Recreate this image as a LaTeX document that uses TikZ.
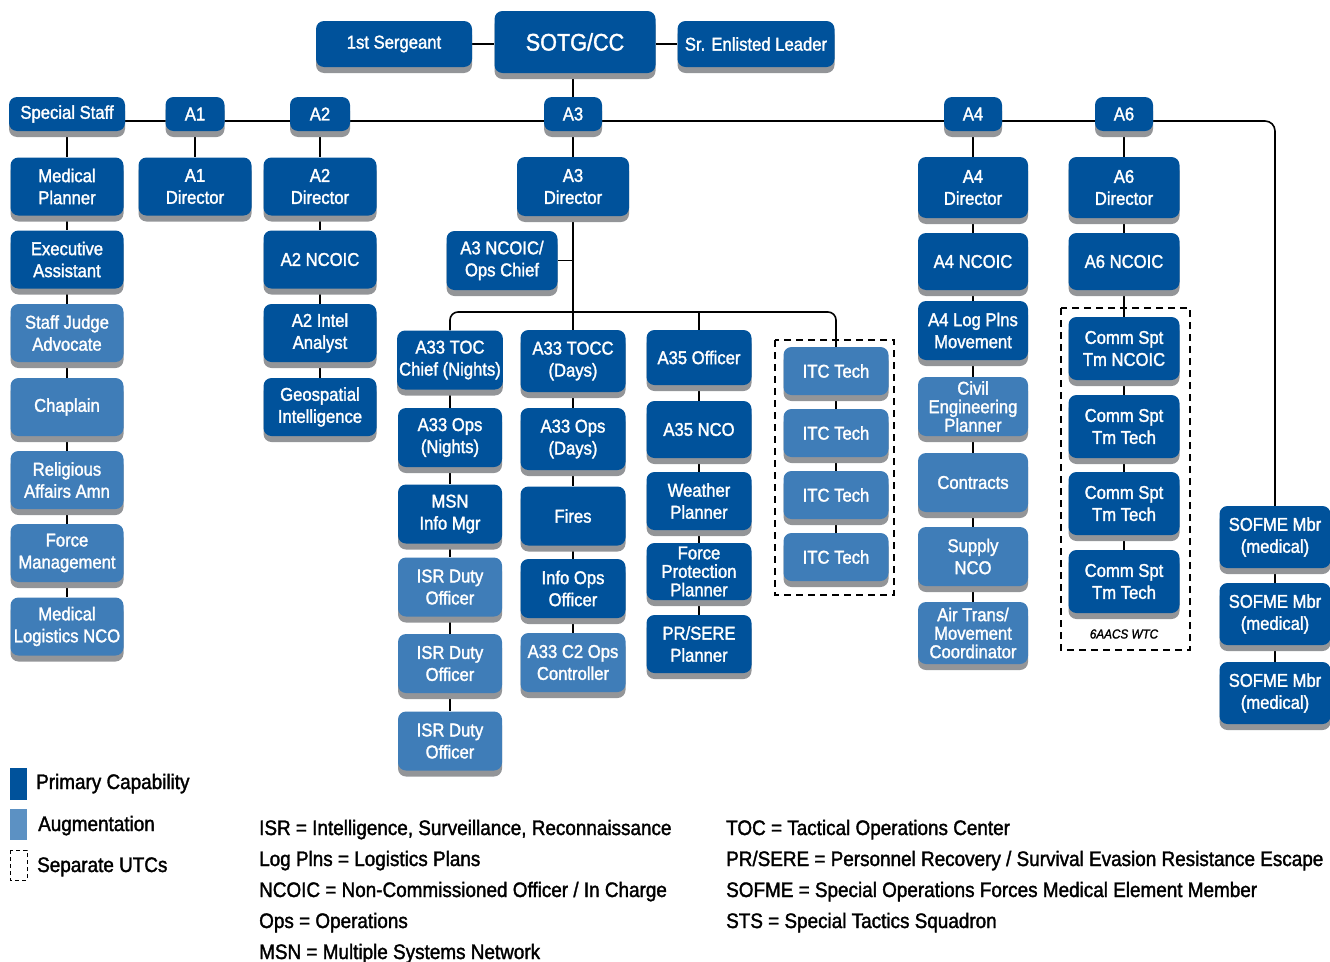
\documentclass[tikz,border=0pt]{standalone}
\usepackage{fontspec}
\setmainfont{Liberation Sans}[FakeStretch=0.9,FakeBold=1.6]
\usetikzlibrary{shadows,backgrounds}
\definecolor{primblue}{HTML}{00529B}
\definecolor{augblue}{HTML}{3F7DB8}
\definecolor{shade}{HTML}{939598}
\tikzset{
  box/.style={rounded corners=8pt,text=white,align=center,inner sep=2pt,
    font=\fontsize{18.5}{22}\selectfont,
    drop shadow={shadow xshift=0pt,shadow yshift=-6pt,opacity=1,fill=shade}},
  pri/.style={box,fill=primblue},
  aug/.style={box,fill=augblue},
  tight/.style={font=\fontsize{18.5}{18.5}\selectfont},
  hdr/.style={minimum height=34pt},
  colss/.style={minimum width=113pt,minimum height=58pt},
  colt/.style={minimum width=104pt,minimum height=59pt},
  colitc/.style={minimum width=105pt,minimum height=48pt},
  colaf/.style={minimum width=110pt,minimum height=59pt},
  colas/.style={minimum width=111pt,minimum height=62pt},
  link/.style={line width=1.6pt},
  utc/.style={line width=2pt,dash pattern=on 7pt off 5pt},
  legend/.style={anchor=base west,align=left,inner sep=0pt,font=\fontsize{21}{31}\selectfont},
}
\begin{document}
\begin{tikzpicture}[x=1pt,y=-1pt]
\useasboundingbox (0,0) rectangle (1330,961);
% command
\node[pri,minimum width=156pt,minimum height=46pt] (sgt) at (394,44) {1st Sergeant};
\node[pri,minimum width=161pt,minimum height=62pt,font=\fontsize{24}{28}\selectfont] (cc) at (575,42) {SOTG/CC};
\node[pri,minimum width=157pt,minimum height=46pt] (sel) at (756,44) {Sr. Enlisted Leader};
% staff row
\node[pri,hdr,minimum width=116pt] (spec) at (67,114) {Special Staff};
\node[pri,hdr,minimum width=59pt] (a1) at (195,114) {A1};
\node[pri,hdr,minimum width=60pt] (a2) at (320,114) {A2};
\node[pri,hdr,minimum width=58pt] (a3) at (573,114) {A3};
\node[pri,hdr,minimum width=58pt] (a4) at (973,114) {A4};
\node[pri,hdr,minimum width=58pt] (a6) at (1124,114) {A6};
% special staff
\node[pri,colss] (medp) at (67,186.5) {Medical\\Planner};
\node[pri,colss] (exa) at (67,259.5) {Executive\\Assistant};
\node[aug,colss] (sja) at (67,333) {Staff Judge\\Advocate};
\node[aug,colss] (chap) at (67,407) {Chaplain};
\node[aug,colss] (rel) at (67,480) {Religious\\Affairs Amn};
\node[aug,colss] (fmgt) at (67,553) {Force\\Management};
\node[aug,colss] (mlog) at (67,626.5) {Medical\\Logistics NCO};
% A1 and A2
\node[pri,colss] (a1d) at (195,186.5) {A1\\Director};
\node[pri,colss] (a2d) at (320,186.5) {A2\\Director};
\node[pri,colss] (a2n) at (320,259.5) {A2 NCOIC};
\node[pri,colss] (a2i) at (320,333) {A2 Intel\\Analyst};
\node[pri,colss] (geo) at (320,407) {Geospatial\\Intelligence};
% A3
\node[pri,colss,minimum width=112pt,minimum height=59pt] (a3d) at (573,186.5) {A3\\Director};
\node[pri,colss,minimum width=111pt,minimum height=59pt] (a3n) at (502,260.5) {A3 NCOIC/\\Ops Chief};
\node[pri,colt] (toc) at (450,360) {A33 TOC\\Chief (Nights)};
\node[pri,colt] (opsn) at (450,437.5) {A33 Ops\\(Nights)};
\node[pri,colt] (msn) at (450,514) {MSN\\Info Mgr};
\node[aug,colt] (isr1) at (450,587) {ISR Duty\\Officer};
\node[aug,colt] (isr2) at (450,663.5) {ISR Duty\\Officer};
\node[aug,colt] (isr3) at (450,741) {ISR Duty\\Officer};
\node[pri,colt,minimum width=105pt,minimum height=62pt] (tocc) at (573,361) {A33 TOCC\\(Days)};
\node[pri,colt,minimum width=105pt,minimum height=62pt] (opsd) at (573,439) {A33 Ops\\(Days)};
\node[pri,colt,minimum width=105pt] (fires) at (573,516) {Fires};
\node[pri,colt,minimum width=105pt] (info) at (573,588.5) {Info Ops\\Officer};
\node[aug,colt,minimum width=105pt] (ctrl) at (573,662.5) {A33 C2 Ops\\Controller};
\node[pri,colt,minimum width=105pt,minimum height=55pt] (a35o) at (699,357.5) {A35 Officer};
\node[pri,colt,minimum width=105pt,minimum height=57pt] (a35n) at (699,429.5) {A35 NCO};
\node[pri,colt,minimum width=105pt,minimum height=58pt] (wx) at (699,501) {Weather\\Planner};
\node[pri,colt,tight,minimum width=105pt,minimum height=57pt] (fp) at (699,571.5) {Force\\Protection\\Planner};
\node[pri,colt,minimum width=105pt,minimum height=58pt] (sere) at (699,644) {PR/SERE\\Planner};
\node[aug,colitc] (itc1) at (836,371) {ITC Tech};
\node[aug,colitc] (itc2) at (836,433) {ITC Tech};
\node[aug,colitc] (itc3) at (836,495) {ITC Tech};
\node[aug,colitc] (itc4) at (836,557) {ITC Tech};
\draw[utc] (775,340) rectangle (894,595);
% A4
\node[pri,colaf,minimum height=61pt] (a4d) at (973,187.5) {A4\\Director};
\node[pri,colaf,minimum height=57pt] (a4n) at (973,261.5) {A4 NCOIC};
\node[pri,colaf] (a4l) at (973,330.5) {A4 Log Plns\\Movement};
\node[aug,colaf,tight] (civ) at (973,406.5) {Civil\\Engineering\\Planner};
\node[aug,colaf] (con) at (973,482.5) {Contracts};
\node[aug,colaf] (sup) at (973,556.5) {Supply\\NCO};
\node[aug,colaf,tight,minimum height=62pt] (air) at (973,633) {Air Trans/\\Movement\\Coordinator};
% A6
\node[pri,colas,minimum height=61pt] (a6d) at (1124,187.5) {A6\\Director};
\node[pri,colas,minimum height=57pt] (a6n) at (1124,261.5) {A6 NCOIC};
\node[pri,colas,minimum height=63pt] (cm1) at (1124,348.5) {Comm Spt\\Tm NCOIC};
\node[pri,colas,minimum height=63pt] (cm2) at (1124,426.5) {Comm Spt\\Tm Tech};
\node[pri,colas,minimum height=63pt] (cm3) at (1124,503.5) {Comm Spt\\Tm Tech};
\node[pri,colas,minimum height=63pt] (cm4) at (1124,581.5) {Comm Spt\\Tm Tech};
\draw[utc] (1061,308) rectangle (1190,650);
\node[font=\fontsize{13}{15}\selectfont\itshape] (wtc) at (1124,634) {6AACS WTC};
% SOFME
\node[pri,colas] (sof1) at (1275,537) {SOFME Mbr\\(medical)};
\node[pri,colas] (sof2) at (1275,614) {SOFME Mbr\\(medical)};
\node[pri,colas] (sof3) at (1275,693) {SOFME Mbr\\(medical)};
% connectors
\begin{scope}[on background layer]
\draw[link] (sgt.east) -- (sgt.east -| cc.west);
\draw[link] (sel.west) -- (sel.west -| cc.east);
\draw[link] (cc.south -| a3) -- (a3);
\draw[link,rounded corners=10pt] ([yshift=-7pt]spec.center) -| (sof1.north);
\draw[link] (spec) -- (medp) -- (exa) -- (sja) -- (chap) -- (rel) -- (fmgt) -- (mlog);
\draw[link] (a1) -- (a1d);
\draw[link] (a2) -- (a2d) -- (a2n) -- (a2i) -- (geo);
\draw[link] (a3) -- (a3d) -- (tocc);
\draw[link] (a3n.east) -- (a3n.east -| a3d);
\coordinate (bar) at (573,312);
\draw[link,rounded corners=8pt] (toc.north) |- (bar) -| (itc1.north);
\draw[link] (a35o) -- (a35o |- bar);
\draw[link] (toc) -- (opsn) -- (msn) -- (isr1) -- (isr2) -- (isr3);
\draw[link] (tocc) -- (opsd) -- (fires) -- (info) -- (ctrl);
\draw[link] (a35o) -- (a35n) -- (wx) -- (fp) -- (sere);
\draw[link] (itc1) -- (itc2) -- (itc3) -- (itc4);
\draw[link] (a4) -- (a4d) -- (a4n) -- (a4l) -- (civ) -- (con) -- (sup) -- (air);
\draw[link] (a6) -- (a6d) -- (a6n) -- (cm1) -- (cm2) -- (cm3) -- (cm4);
\draw[link] (sof1) -- (sof2) -- (sof3);
\end{scope}
% legend
\fill[primblue] (10,768) rectangle (27,800);
\fill[augblue!85!white] (10,809) rectangle (27,840);
\draw[line width=1pt,dash pattern=on 4pt off 3pt] (10,850) rectangle (27,880);
\node[legend] (lprim) at (36,789) {Primary Capability};
\node[legend] (laug) at (38,831) {Augmentation};
\node[legend] (lutc) at (37,872) {Separate UTCs};
\node[legend] (abbl) at (259,959) {ISR = Intelligence, Surveillance, Reconnaissance\\Log Plns = Logistics Plans\\NCOIC = Non-Commissioned Officer / In Charge\\Ops = Operations\\MSN = Multiple Systems Network};
\node[legend] (abbr) at (726,928) {TOC = Tactical Operations Center\\PR/SERE = Personnel Recovery / Survival Evasion Resistance Escape\\SOFME = Special Operations Forces Medical Element Member\\STS = Special Tactics Squadron};
\end{tikzpicture}
\end{document}
